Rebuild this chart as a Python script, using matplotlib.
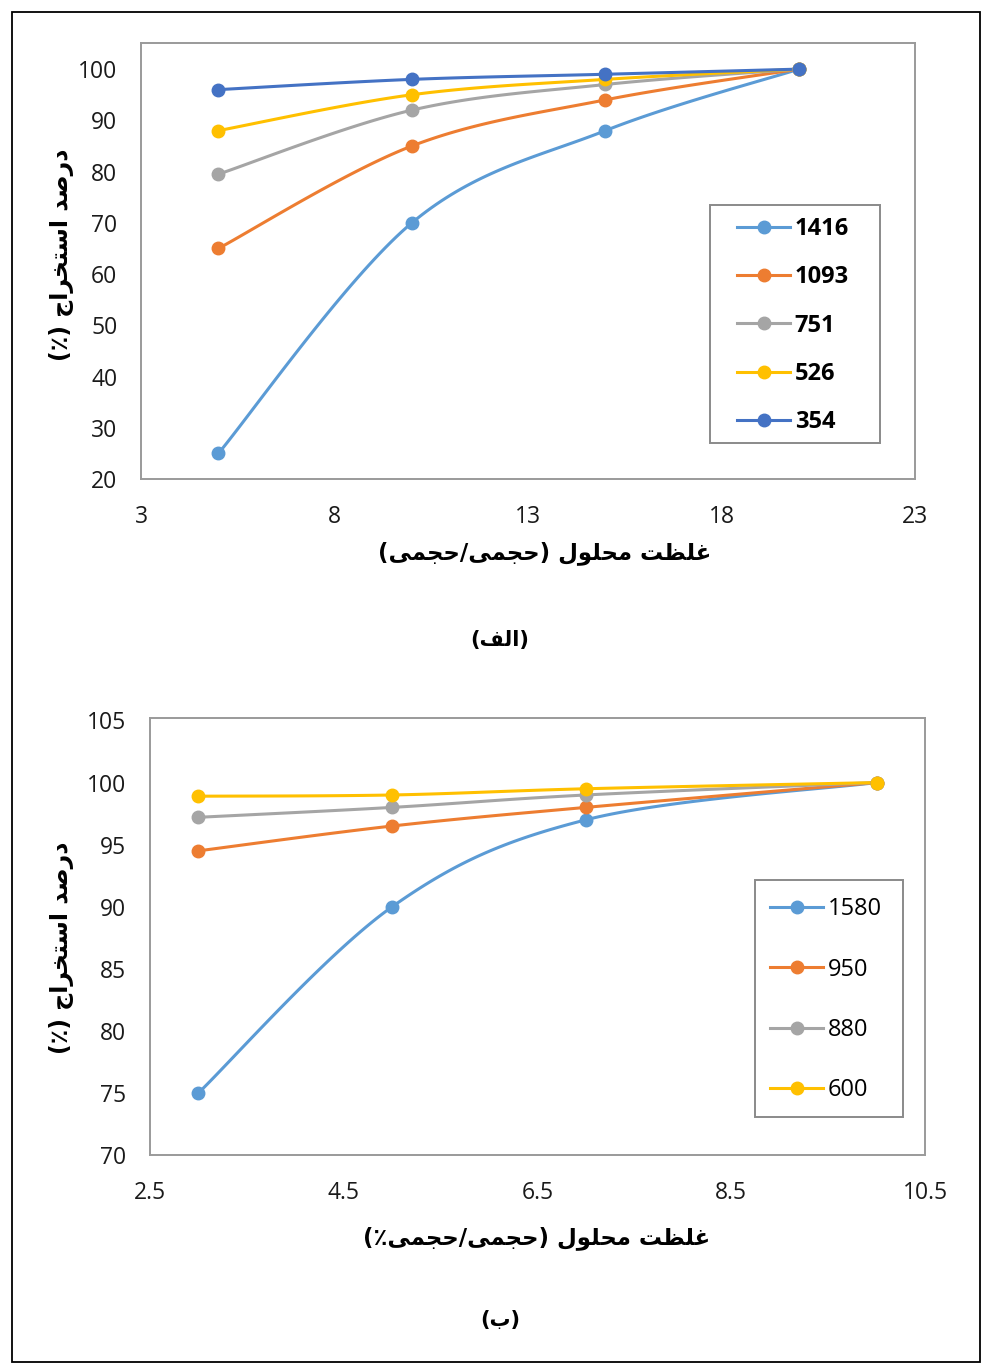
import numpy as np
import matplotlib
matplotlib.use("Agg")
import matplotlib.pyplot as plt
from matplotlib.patches import Rectangle

# ---------------- data ----------------
conc_a = [5, 10, 15, 20]
labels_a = ["1416", "1093", "751", "526", "354"]
values_a = {
    "1416": [25, 70, 88, 100],
    "1093": [65, 85, 94, 100],
    "751": [79.5, 92, 97, 100],
    "526": [88, 95, 98, 100],
    "354": [96, 98, 99, 100],
}
xticks_a = [3, 8, 13, 18, 23]
yticks_a = [20, 30, 40, 50, 60, 70, 80, 90, 100]

conc_b = [3, 5, 7, 10]
labels_b = ["1580", "950", "880", "600"]
values_b = {
    "1580": [75, 90, 97, 100],
    "950": [94.5, 96.5, 98, 100],
    "880": [97.2, 98, 99, 100],
    "600": [98.9, 99, 99.5, 100],
}
xticks_b = [2.5, 4.5, 6.5, 8.5, 10.5]
yticks_b = [70, 75, 80, 85, 90, 95, 100, 105]

ylabel_text = "درصد استخراج (٪)"
xlabel_a_text = "غلظت محلول (حجمی/حجمی)"
xlabel_b_text = "غلظت محلول (حجمی/حجمی٪)"
caption_a = "(الف)"
caption_b = "(ب)"

colors_a = ["#5B9BD5", "#ED7D31", "#A5A5A5", "#FFC000", "#4472C4"]
colors_b = ["#5B9BD5", "#ED7D31", "#A5A5A5", "#FFC000"]

# ---------------- Persian shaping ----------------
# forms: (isolated, final, initial, medial); right-joining letters have only two
FORMS = {
    "ا": ("\uFE8D", "\uFE8E"),
    "د": ("\uFEA9", "\uFEAA"),
    "ر": ("\uFEAD", "\uFEAE"),
    "و": ("\uFEED", "\uFEEE"),
    "ب": ("\uFE8F", "\uFE90", "\uFE91", "\uFE92"),
    "ت": ("\uFE95", "\uFE96", "\uFE97", "\uFE98"),
    "ج": ("\uFE9D", "\uFE9E", "\uFE9F", "\uFEA0"),
    "ح": ("\uFEA1", "\uFEA2", "\uFEA3", "\uFEA4"),
    "خ": ("\uFEA5", "\uFEA6", "\uFEA7", "\uFEA8"),
    "س": ("\uFEB1", "\uFEB2", "\uFEB3", "\uFEB4"),
    "ص": ("\uFEB9", "\uFEBA", "\uFEBB", "\uFEBC"),
    "ظ": ("\uFEC5", "\uFEC6", "\uFEC7", "\uFEC8"),
    "غ": ("\uFECD", "\uFECE", "\uFECF", "\uFED0"),
    "ف": ("\uFED1", "\uFED2", "\uFED3", "\uFED4"),
    "ل": ("\uFEDD", "\uFEDE", "\uFEDF", "\uFEE0"),
    "م": ("\uFEE1", "\uFEE2", "\uFEE3", "\uFEE4"),
    "ی": ("\uFEEF", "\uFEF0", "\uFEF3", "\uFEF4"),
}
MIRROR = {"(": ")", ")": "("}


def shape_fa(text):
    out = []
    n = len(text)
    for i, ch in enumerate(text):
        if ch not in FORMS:
            out.append(ch)
            continue
        f = FORMS[ch]
        prev = text[i - 1] if i > 0 else None
        nxt = text[i + 1] if i < n - 1 else None
        join_prev = prev in FORMS and len(FORMS[prev]) == 4
        join_next = len(f) == 4 and nxt in FORMS
        if join_prev and join_next:
            out.append(f[3])
        elif join_prev:
            out.append(f[1])
        elif join_next:
            out.append(f[2])
        else:
            out.append(f[0])
    visual = [MIRROR.get(c, c) for c in reversed(out)]
    return "".join(visual)


# ---------------- smoothing ----------------
def smooth_path(ax, xs, ys, steps=40):
    pts = ax.transData.transform(np.column_stack([xs, ys]))
    p = np.vstack([pts[0], pts, pts[-1]])
    curve = []
    for i in range(1, len(p) - 2):
        p0, p1, p2, p3 = p[i - 1], p[i], p[i + 1], p[i + 2]
        c1 = p1 + (p2 - p0) / 6.0
        c2 = p2 - (p3 - p1) / 6.0
        t = np.linspace(0, 1, steps)[:, None]
        seg = ((1 - t) ** 3) * p1 + 3 * ((1 - t) ** 2) * t * c1 + 3 * (1 - t) * t ** 2 * c2 + t ** 3 * p2
        curve.append(seg if i == 1 else seg[1:])
    curve = np.vstack(curve)
    data = ax.transData.inverted().transform(curve)
    return data[:, 0], data[:, 1]


# ---------------- figure ----------------
W, H = 982, 1364
fig = plt.figure(figsize=(W / 100, H / 100), dpi=100)
fig.patch.set_facecolor("white")

tick_font = "Open Sans"
fa_font = ["DejaVu Sans"]

fig.add_artist(Rectangle((12 / W, 2 / H), 968 / W, 1350 / H, transform=fig.transFigure,
                         fill=False, edgecolor="black", linewidth=1.3))


def make_panel(rect, xs, labels, values, colors, xlim, ylim, xticks, yticks,
               box, leg_anchor, leg_spacing, leg_weight):
    ax = fig.add_axes(rect)
    ax.set_xlim(*xlim)
    ax.set_ylim(*ylim)
    ax.set_xticks(xticks)
    ax.set_yticks(yticks)
    ax.set_xticklabels([f"{v:g}" for v in xticks], fontsize=16.5, family=tick_font, color="#1a1a1a")
    ax.set_yticklabels([f"{v:g}" for v in yticks], fontsize=16.5, family=tick_font, color="#1a1a1a")
    ax.tick_params(axis="y", length=0, pad=17)
    ax.tick_params(axis="x", length=0, pad=19)
    for s in ax.spines.values():
        s.set_edgecolor("#9A9A9A")
        s.set_linewidth(1.4)
    for lab, col in zip(labels, colors):
        ys = values[lab]
        sx, sy = smooth_path(ax, xs, ys)
        ax.plot(sx, sy, color=col, linewidth=2.2, solid_capstyle="round", zorder=3)
        ax.plot(xs, ys, linestyle="none", marker="o", markersize=9, color=col, zorder=4)
    # legend box
    x0, y0, x1, y1 = box
    ax.add_patch(Rectangle((x0, y0), x1 - x0, y1 - y0, transform=ax.transAxes,
                           facecolor="white", edgecolor="#8A8A8A", linewidth=1.4, zorder=5))
    handles = [plt.Line2D([], [], color=c, linewidth=2.2, marker="o", markersize=9) for c in colors]
    leg = ax.legend(handles, labels, loc="upper left", bbox_to_anchor=leg_anchor,
                    frameon=False, handlelength=2.25, handletextpad=0.2,
                    labelspacing=leg_spacing, borderpad=0, borderaxespad=0,
                    prop={"family": tick_font, "size": 17, "weight": leg_weight})
    leg.set_zorder(6)
    return ax


ax1 = make_panel([141 / W, 1 - 479 / H, 774 / W, 436 / H], conc_a, labels_a, values_a, colors_a,
                 (3, 23), (20, 105.1), xticks_a, yticks_a,
                 (0.735, 0.0826, 0.955, 0.628), (0.770, 0.601), 1.03, "bold")
ax2 = make_panel([150 / W, 1 - 1155 / H, 775 / W, 437 / H], conc_b, labels_b, values_b, colors_b,
                 (2.5, 10.5), (70, 105.2), xticks_b, yticks_b,
                 (0.781, 0.087, 0.9716, 0.629), (0.80, 0.590), 1.54, "normal")

# axis titles and captions
fig.text(62 / W, 1 - 255 / H, shape_fa(ylabel_text), rotation=90, ha="center", va="center",
         family=fa_font, fontsize=17, fontweight="bold")
fig.text(62 / W, 1 - 948 / H, shape_fa(ylabel_text), rotation=90, ha="center", va="center",
         family=fa_font, fontsize=17, fontweight="bold")
fig.text(545 / W, 1 - 553 / H, shape_fa(xlabel_a_text), ha="center", va="center",
         family=fa_font, fontsize=16.5, fontweight="bold")
fig.text(537 / W, 1 - 1238 / H, shape_fa(xlabel_b_text), ha="center", va="center",
         family=fa_font, fontsize=16.5, fontweight="bold")
fig.text(500 / W, 1 - 640 / H, shape_fa(caption_a), ha="center", va="center",
         family=fa_font, fontsize=15, fontweight="bold")
fig.text(500 / W, 1 - 1320 / H, shape_fa(caption_b), ha="center", va="center",
         family=fa_font, fontsize=15, fontweight="bold")

fig.savefig("out.png", dpi=100, facecolor="white")
